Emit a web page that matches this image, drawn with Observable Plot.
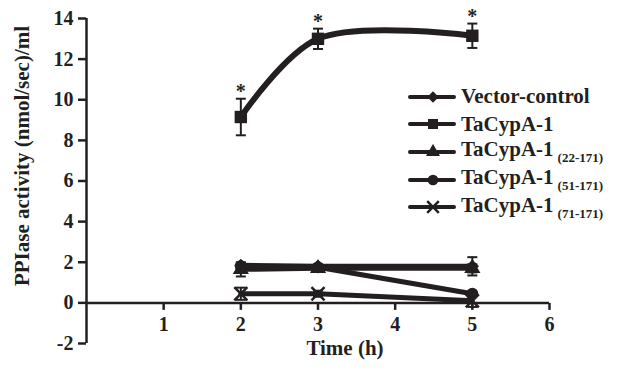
<!DOCTYPE html>
<html>
<head>
<meta charset="utf-8">
<script src="https://cdn.jsdelivr.net/npm/d3@7"></script>
<script src="https://cdn.jsdelivr.net/npm/@observablehq/plot@0.6"></script>
<style>
  body { margin: 0; background: #fff; }
  #wrap { position: relative; width: 624px; height: 377px; font-family: "Liberation Serif", "Times New Roman", serif; font-weight: bold; color: #231f20; }
  #legend { position: absolute; left: 408px; top: 83px; }
  .row { display: flex; align-items: center; height: 27.6px; }
  .row svg { flex: none; }
  .lab { font-size: 21px; margin-left: 5px; white-space: nowrap; line-height: 1; }
  .lab sub { font-size: 13px; vertical-align: -6px; margin-left: 4px; }
</style>
</head>
<body>
<div id="wrap"></div>
<script>
// ---- data ----
const times = [2, 3, 5];
const seriesNames = ["Vector-control", "TaCypA-1", "TaCypA-1", "TaCypA-1", "TaCypA-1"];
const seriesSubs = ["", "", "(22-171)", "(51-171)", "(71-171)"];
const vectorControl = [1.85, 1.8, 1.8];
const vectorControlErr = [0.1, 0.1, 0.45];
const tacypa1 = [9.15, 13.0, 13.15];
const tacypa1Err = [0.9, 0.5, 0.6];
const tacypa22 = [1.65, 1.7, 1.7];
const tacypa22Err = [0.35, 0.15, 0.2];
const tacypa51 = [1.8, 1.75, 0.45];
const tacypa51Err = [0.1, 0.1, 0.1];
const tacypa71 = [0.45, 0.45, 0.1];
const tacypa71Err = [0.3, 0.15, 0.3];
const significance = ["*", "*", "*"];
const xTicks = [1, 2, 3, 4, 5, 6];
const yTicks = [-2, 0, 2, 4, 6, 8, 10, 12, 14];
const xTitle = "Time (h)";
const yTitle = "PPIase activity (nmol/sec)/ml";

const ink = "#231f20";
const values = [vectorControl, tacypa1, tacypa22, tacypa51, tacypa71];
const errs = [vectorControlErr, tacypa1Err, tacypa22Err, tacypa51Err, tacypa71Err];
const symbols = ["diamond2", "square", "triangle", "circle", "times"];
const keys = seriesNames.map((n, i) => n + seriesSubs[i]);

const series = values.map((vals, i) =>
  times.map((t, j) => ({key: keys[i], time: t, value: vals[j], err: errs[i][j], sig: i === 1 ? significance[j] : ""}))
);
const rows = series.flat();

const downTick = {draw(ctx) { ctx.moveTo(0, 0); ctx.lineTo(0, 7); }};
const cap = {draw(ctx) { ctx.moveTo(-5, 0); ctx.lineTo(5, 0); }};

const marks = [
  Plot.ruleY([0], {stroke: ink, strokeWidth: 2.5}),
  Plot.ruleX([0], {stroke: ink, strokeWidth: 2.5}),
  Plot.axisY({ticks: yTicks, tickSize: 8, tickPadding: 5, tickFormat: d => String(d), stroke: ink, strokeWidth: 2.5, fill: ink, fontSize: 20, label: null}),
  Plot.dot(xTicks, {x: d => d, y: () => 0, symbol: downTick, stroke: ink, strokeWidth: 2.5}),
  Plot.text(xTicks, {x: d => d, frameAnchor: "bottom", dy: -13, text: d => String(d), fill: ink, fontSize: 20}),
  Plot.text([yTitle], {frameAnchor: "left", textAnchor: "middle", dx: -64, dy: -25, rotate: -90, text: d => d, fill: ink, fontSize: 21}),
  Plot.text([xTitle], {frameAnchor: "bottom", textAnchor: "middle", dx: 27, dy: 11, text: d => d, fill: ink, fontSize: 21}),
  // error bars
  Plot.ruleX(rows, {x: "time", y1: d => d.value - d.err, y2: d => d.value + d.err, stroke: ink, strokeWidth: 2}),
  Plot.dot(rows, {x: "time", y: d => d.value + d.err, symbol: cap, stroke: ink, strokeWidth: 2}),
  Plot.dot(rows, {x: "time", y: d => d.value - d.err, symbol: cap, stroke: ink, strokeWidth: 2}),
];

series.forEach((s, i) => {
  marks.push(Plot.line(s, {x: "time", y: "value", stroke: ink, strokeWidth: i === 1 ? 6 : 5, curve: i === 1 ? "catmull-rom" : "linear"}));
});
series.forEach((s, i) => {
  const sym = symbols[i];
  if (sym === "times") {
    marks.push(Plot.dot(s, {x: "time", y: "value", symbol: sym, r: 6, stroke: ink, strokeWidth: 2.5}));
  } else {
    marks.push(Plot.dot(s, {x: "time", y: "value", symbol: sym, r: sym === "square" ? 7 : 6, fill: ink}));
  }
});
marks.push(Plot.text(series[1], {x: "time", y: d => d.value + d.err, text: "sig", dy: -7, fill: ink, fontSize: 20}));

const chart = Plot.plot({
  width: 624,
  height: 377,
  marginLeft: 86,
  marginRight: 75,
  marginTop: 18,
  marginBottom: 34,
  x: {domain: [0, 6], axis: null},
  y: {domain: [-2, 14], axis: null},
  style: {fontFamily: '"Liberation Serif", "Times New Roman", serif', fontWeight: "bold", background: "white", color: ink, overflow: "visible"},
  marks
});
const wrap = document.getElementById("wrap");
chart.style.position = "absolute";
chart.style.left = "0";
chart.style.top = "0";
wrap.appendChild(chart);

// legend (HTML overlay)
const legend = document.createElement("div");
legend.id = "legend";
keys.forEach((k, i) => {
  const row = document.createElement("div");
  row.className = "row";
  const sym = symbols[i];
  const d3sym = {diamond2: d3.symbolDiamond2, square: d3.symbolSquare, triangle: d3.symbolTriangle, circle: d3.symbolCircle, times: d3.symbolTimes}[sym];
  const size = sym === "square" ? 100 : sym === "circle" ? 90 : sym === "times" ? 90 : 85;
  const path = d3.symbol(d3sym, size)();
  const svgNS = "http://www.w3.org/2000/svg";
  const svg = document.createElementNS(svgNS, "svg");
  svg.setAttribute("width", 48);
  svg.setAttribute("height", 16);
  const ln = document.createElementNS(svgNS, "line");
  ln.setAttribute("x1", 2); ln.setAttribute("x2", 46); ln.setAttribute("y1", 8); ln.setAttribute("y2", 8);
  ln.setAttribute("stroke", ink); ln.setAttribute("stroke-width", 4); ln.setAttribute("stroke-linecap", "round");
  svg.appendChild(ln);
  const p = document.createElementNS(svgNS, "path");
  p.setAttribute("d", path);
  p.setAttribute("transform", "translate(25,8)");
  if (sym === "times") { p.setAttribute("fill", "none"); p.setAttribute("stroke", ink); p.setAttribute("stroke-width", 2.5); }
  else p.setAttribute("fill", ink);
  svg.appendChild(p);
  row.appendChild(svg);
  const lab = document.createElement("span");
  lab.className = "lab";
  lab.textContent = seriesNames[i];
  if (seriesSubs[i]) {
    const sub = document.createElement("sub");
    sub.textContent = seriesSubs[i];
    lab.appendChild(sub);
  }
  row.appendChild(lab);
  legend.appendChild(row);
});
wrap.appendChild(legend);
</script>
</body>
</html>
